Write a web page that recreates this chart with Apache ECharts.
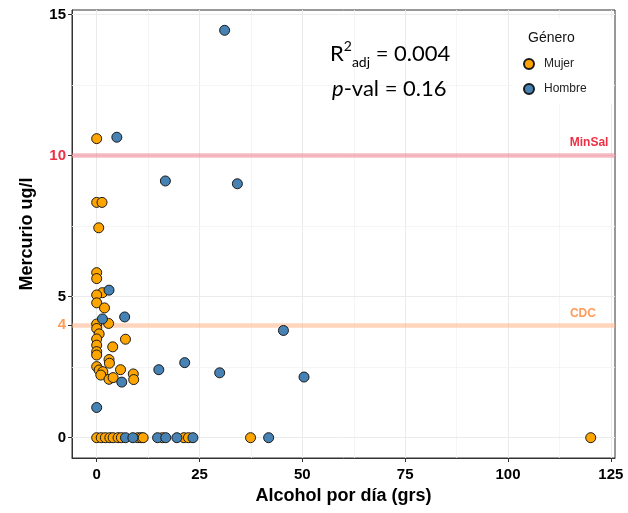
<!DOCTYPE html>
<html><head><meta charset="utf-8">
<script src="https://cdn.jsdelivr.net/npm/echarts@6/dist/echarts.min.js"></script>
<style>html,body{margin:0;padding:0;background:#fff}#c{width:628px;height:513px}</style>
</head><body><div id="c"></div>
<script>
// Mujer (orange)
const mujerAlcohol = [0, 0, 1.3, 0.5, 0, 0, 1.4, 0, 0, 1.9, 0, 2.9, 0, 0.6, 0, 7.0, 0, 3.9, 0, 0, 3.0, 3.1, 0, 0.6, 1.5, 1.0, 5.8, 8.9, 9.0, 3.0, 4.0,
  0, 1.1, 2.1, 3.2, 4.0, 5.2, 6.0, 10.0, 10.8, 11.3, 16.0, 21.2, 22.3, 37.4, 120.1];
const mujerMercurio = [10.6, 8.34, 8.34, 7.44, 5.85, 5.64, 5.14, 5.06, 4.78, 4.6, 4.03, 4.05, 3.87, 3.68, 3.5, 3.49, 3.28, 3.22, 3.05, 2.93, 2.77, 2.64, 2.52, 2.4, 2.34, 2.22, 2.41, 2.26, 2.06, 2.07, 2.13,
  0, 0, 0, 0, 0, 0, 0, 0, 0, 0, 0, 0, 0, 0, 0];
// Hombre (steelblue)
const hombreAlcohol = [31.1, 4.9, 16.7, 34.2, 3.0, 6.8, 1.4, 45.4, 21.4, 15.1, 29.9, 50.4, 6.1, 0,
  7.0, 8.8, 14.8, 16.8, 19.5, 23.4, 41.8];
const hombreMercurio = [14.44, 10.65, 9.1, 9.0, 5.23, 4.28, 4.21, 3.8, 2.66, 2.41, 2.3, 2.15, 1.97, 1.07,
  0, 0, 0, 0, 0, 0, 0];

const xTicks = [0, 25, 50, 75, 100, 125];
const xMinor = [12.5, 37.5, 62.5, 87.5, 112.5];
const yTicks = [0, 4, 5, 10, 15];
const yGrid = [0, 5, 10, 15];
const yMinor = [2.5, 7.5, 12.5];
const refNames = ['MinSal', 'CDC'];
const refValues = [10, 4];
const refLabelPos = [[119.7, 10.45], [118.2, 4.41]];

const refLineColors = ['rgba(242,120,135,0.5)', 'rgba(255,180,135,0.55)'];
const refTextColors = ['#EE2F45', '#FF9C5C'];

const toPts = (xs, ys) => xs.map((x, i) => [x, ys[i]]);

const gridLines = [];
xTicks.forEach(v => gridLines.push({xAxis: v, lineStyle: {color: '#EBEBEB', width: 1, type: 'solid'}}));
xMinor.forEach(v => gridLines.push({xAxis: v, lineStyle: {color: '#F3F3F3', width: 0.8, type: 'solid'}}));
yGrid.forEach(v => gridLines.push({yAxis: v, lineStyle: {color: '#EBEBEB', width: 1, type: 'solid'}}));
yMinor.forEach(v => gridLines.push({yAxis: v, lineStyle: {color: '#F3F3F3', width: 0.8, type: 'solid'}}));

const chart = echarts.init(document.getElementById('c'), null, {renderer: 'canvas'});
const axisFont = {fontFamily: 'Liberation Sans', fontWeight: 'bold', fontSize: 15, color: '#000'};
chart.setOption({
  animation: false,
  backgroundColor: '#fff',
  grid: {left: 72, right: 13, top: 10, bottom: 55, show: true, borderColor: '#333', borderWidth: 1, backgroundColor: '#fff'},
  xAxis: {
    type: 'value', min: -6, max: 126,
    name: 'Alcohol por día (grs)', nameLocation: 'middle', nameGap: 28,
    nameTextStyle: {fontFamily: 'Liberation Sans', fontWeight: 'bold', fontSize: 18, color: '#000'},
    axisLine: {show: true, onZero: false, lineStyle: {color: '#333', width: 1}},
    axisTick: {show: true, length: 4, customValues: xTicks, lineStyle: {color: '#333'}},
    axisLabel: Object.assign({customValues: xTicks, margin: 9}, axisFont),
    splitLine: {show: false}
  },
  yAxis: {
    type: 'value', min: -0.72, max: 15.16,
    name: 'Mercurio ug/l', nameLocation: 'middle', nameGap: 36,
    nameTextStyle: {fontFamily: 'Liberation Sans', fontWeight: 'bold', fontSize: 18, color: '#000'},
    axisLine: {show: true, onZero: false, lineStyle: {color: '#333', width: 1}},
    axisTick: {show: true, length: 4, customValues: yTicks, lineStyle: {color: '#333'}},
    axisLabel: Object.assign({
      customValues: yTicks, margin: 6,
      formatter: v => v === 10 ? '{r|10}' : (v === 4 ? '{o|4}' : String(v)),
      rich: {
        r: {color: refTextColors[0], fontFamily: 'Liberation Sans', fontWeight: 'bold', fontSize: 15},
        o: {color: refTextColors[1], fontFamily: 'Liberation Sans', fontWeight: 'bold', fontSize: 15}
      }
    }, axisFont),
    splitLine: {show: false}
  },
  legend: {
    data: ['Mujer', 'Hombre'], orient: 'vertical', left: 523, top: 58, z: 6,
    itemWidth: 20, itemHeight: 10, itemGap: 13, padding: 0, icon: 'circle',
    textStyle: {fontFamily: 'Liberation Sans', fontSize: 12, color: '#222'}
  },
  graphic: [
    {type: 'rect', z: 4, silent: true, shape: {x: 513, y: 18, width: 100, height: 86}, style: {fill: '#fff'}},
    {type: 'text', z: 6, left: 528, top: 31, style: {text: 'Género', fontFamily: 'Liberation Sans', fontSize: 14, fill: '#111'}},
    {type: 'text', z: 6, x: 330, y: 54, style: {
      text: '{r|R}{sup|2}{sub|adj}{m| = 0.004}', verticalAlign: 'middle', fill: '#000',
      rich: {
        r: {fontFamily: 'Lato', fontSize: 22, lineHeight: 30, verticalAlign: 'middle', fill: '#000'},
        sup: {fontFamily: 'Lato', fontSize: 14, lineHeight: 30, verticalAlign: 'top', fill: '#000'},
        sub: {fontFamily: 'Lato', fontSize: 14, lineHeight: 30, verticalAlign: 'bottom', fill: '#000'},
        m: {fontFamily: 'Lato', fontSize: 22, lineHeight: 30, verticalAlign: 'middle', fill: '#000'}
      }
    }},
    {type: 'text', z: 6, x: 332, y: 89, style: {
      text: '{i|p}{m|-val = 0.16}', verticalAlign: 'middle', fill: '#000',
      rich: {
        i: {fontFamily: 'Lato', fontStyle: 'italic', fontSize: 22, fill: '#000'},
        m: {fontFamily: 'Lato', fontSize: 22, fill: '#000'}
      }
    }}
  ],
  series: [
    {
      name: 'grid', type: 'scatter', data: [], z: 1, silent: true,
      markLine: {silent: true, z: 1, symbol: 'none', label: {show: false}, animation: false, data: gridLines}
    },
    {
      name: 'ref', type: 'scatter', data: [], z: 2, silent: true,
      markLine: {
        silent: true, z: 2, symbol: 'none', label: {show: false}, animation: false,
        data: refValues.map((v, i) => ({yAxis: v, lineStyle: {color: refLineColors[i], width: 4.5, type: 'solid'}}))
      },
      markPoint: {
        silent: true, z: 5, symbol: 'circle', symbolSize: 0, animation: false,
        data: refNames.map((n, i) => ({
          coord: refLabelPos[i], value: n,
          label: {show: true, position: 'inside', formatter: n, fontFamily: 'Liberation Sans', fontWeight: 'bold', fontSize: 12, color: refTextColors[i]}
        }))
      }
    },
    {
      name: 'Mujer', type: 'scatter', z: 3, symbol: 'circle', symbolSize: 10,
      data: toPts(mujerAlcohol, mujerMercurio),
      itemStyle: {color: '#FFA500', borderColor: '#1a1a1a', borderWidth: 1, opacity: 1}
    },
    {
      name: 'Hombre', type: 'scatter', z: 3, symbol: 'circle', symbolSize: 10,
      data: toPts(hombreAlcohol, hombreMercurio),
      itemStyle: {color: '#4682B4', borderColor: '#1a1a1a', borderWidth: 1, opacity: 1}
    }
  ]
});
</script></body></html>
